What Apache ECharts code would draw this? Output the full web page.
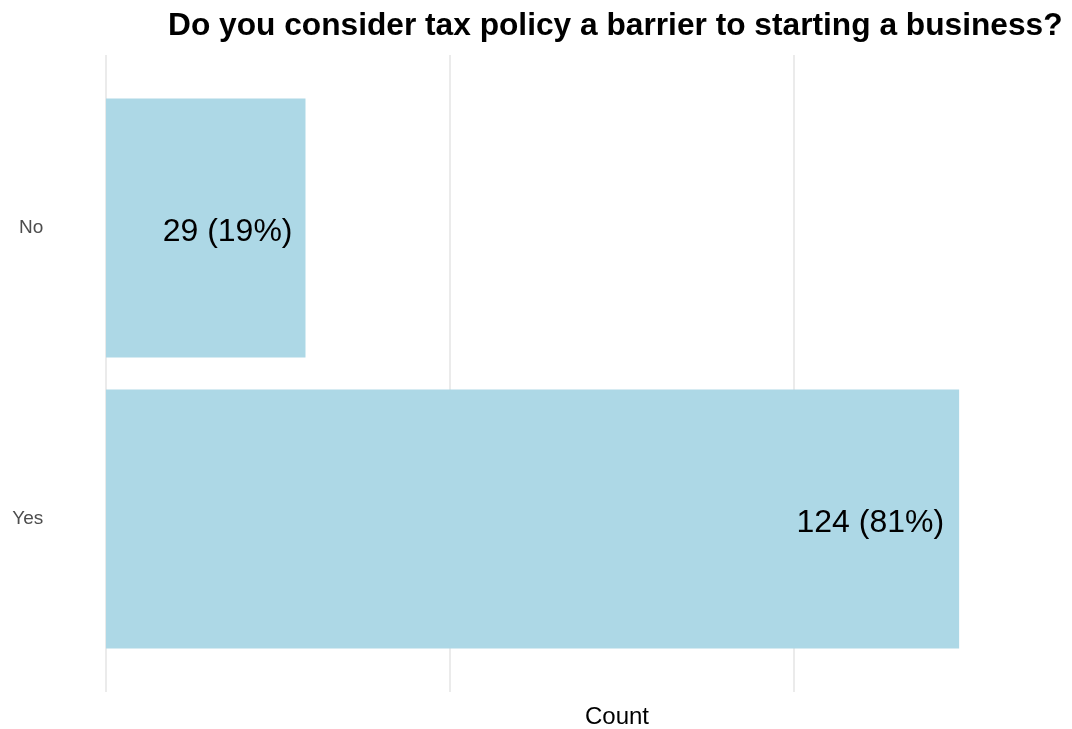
<!DOCTYPE html>
<html>
<head>
<meta charset="utf-8">
<script src="https://cdn.jsdelivr.net/npm/echarts@6/dist/echarts.min.js"></script>
<style>
html,body{margin:0;padding:0;background:#fff;}
#chart{width:1072px;height:729px;}
</style>
</head>
<body>
<div id="chart"></div>
<script>
const categories = ['No', 'Yes'];
const counts = [29, 124];
const percents = [19, 81];
const gridTicks = [0, 50, 100];

const chart = echarts.init(document.getElementById('chart'), null, {renderer: 'canvas'});
const labelDist = [13, 15];
const barData = counts.map((v, i) => ({
  value: v,
  label: {distance: labelDist[i]}
}));

const xMin = -6.2, xMax = 130.2;
const gridLeft = 63.3, gridRight = 70.2;

chart.setOption({
  animation: false,
  backgroundColor: '#ffffff',
  title: {
    text: 'Do you consider tax policy a barrier to starting a business?',
    left: 163,
    top: 5,
    textStyle: {fontFamily: 'Liberation Sans, Arial, sans-serif', fontWeight: 'bold', fontSize: 31.7, color: '#000'}
  },
  graphic: [{
    type: 'text',
    x: 617,
    y: 717,
    style: {text: 'Count', textAlign: 'center', textVerticalAlign: 'middle', fontFamily: 'Liberation Sans, Arial, sans-serif', fontSize: 24, fill: '#000'}
  }],
  grid: [
    {left: gridLeft, right: gridRight, top: 82.5, height: 582},
    {left: 106, right: 278, top: 55, height: 637}
  ],
  xAxis: [
    {gridIndex: 0, type: 'value', min: xMin, max: xMax, show: false, splitLine: {show: false}},
    {
      gridIndex: 1, type: 'value', min: gridTicks[0], max: gridTicks[gridTicks.length - 1], interval: 50,
      axisLine: {show: false}, axisTick: {show: false}, axisLabel: {show: false},
      splitLine: {show: true, showMinLine: true, showMaxLine: true, lineStyle: {color: '#ebebeb', width: 2}}
    }
  ],
  yAxis: [
    {
      gridIndex: 0, type: 'category', data: categories, inverse: true,
      axisLine: {show: false}, axisTick: {show: false}, splitLine: {show: false},
      axisLabel: {margin: 20, fontSize: 19, color: '#4d4d4d', padding: [8, 0, 0, 0], fontFamily: 'Liberation Sans, Arial, sans-serif'}
    },
    {gridIndex: 1, type: 'value', min: 0, max: 1, show: false, splitLine: {show: false}}
  ],
  series: [
    {
      type: 'bar', xAxisIndex: 0, yAxisIndex: 0, z: 3,
      data: barData,
      barWidth: 259,
      itemStyle: {color: '#add8e6'},
      label: {
        show: true, position: 'insideRight', offset: [0, 4],
        fontSize: 32, color: '#000', fontFamily: 'Liberation Sans, Arial, sans-serif',
        formatter: p => counts[p.dataIndex] + ' (' + percents[p.dataIndex] + '%)'
      }
    }
  ]
});
</script>
</body>
</html>
